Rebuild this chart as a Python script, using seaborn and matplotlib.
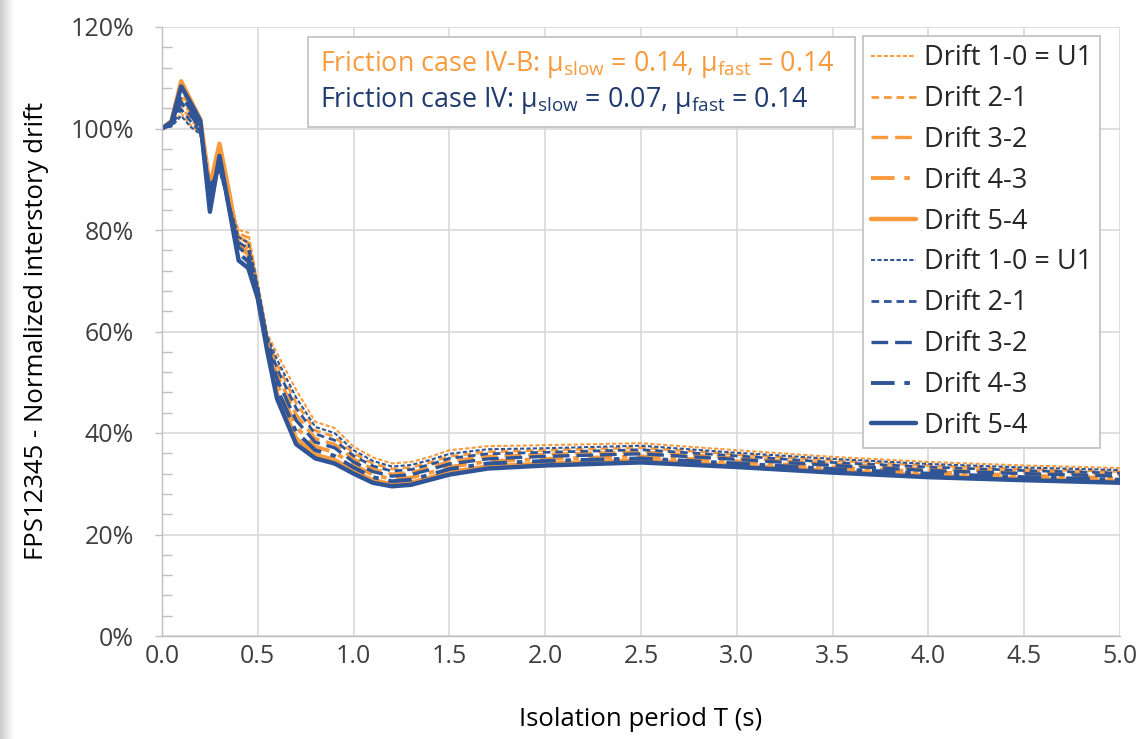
import numpy as np
import pandas as pd
import matplotlib
matplotlib.use("Agg")
import matplotlib.pyplot as plt
from matplotlib.lines import Line2D
from matplotlib.patches import Rectangle
from matplotlib.ticker import MultipleLocator, FuncFormatter
import seaborn as sns

# ---------------- data (values in %) ----------------
T = [0.0, 0.05, 0.1, 0.15, 0.2, 0.25, 0.3, 0.35, 0.4, 0.45, 0.5, 0.55, 0.6, 0.7,
     0.8, 0.9, 1.0, 1.1, 1.2, 1.3, 1.4, 1.5, 1.7, 2.0, 2.5, 3.0, 3.5, 4.0, 4.5, 5.0]

# Friction case IV-B (orange)
ivb_10 = [100, 100.5, 103.0, 100.6, 99.1, 89.5, 92.2, 85.6, 80.0, 79.5, 69.5, 59.5, 55.7, 48.5,
          42.2, 41.0, 37.3, 35.2, 34.0, 34.3, 35.3, 36.6, 37.4, 37.6, 38.0, 36.6, 35.3, 34.3, 33.6, 33.1]
ivb_21 = [100, 100.7, 104.3, 101.8, 99.7, 89.3, 93.2, 85.8, 79.3, 78.5, 68.8, 58.7, 53.6, 45.9,
          40.5, 39.3, 36.0, 34.0, 32.9, 33.2, 34.2, 35.4, 36.3, 36.6, 37.1, 35.8, 34.6, 33.6, 32.9, 32.4]
ivb_32 = [100, 100.9, 105.8, 103.0, 100.3, 89.0, 94.3, 86.2, 78.6, 77.5, 68.1, 57.9, 51.6, 43.6,
          38.9, 37.8, 34.9, 32.9, 31.9, 32.2, 33.2, 34.4, 35.4, 35.8, 36.3, 35.1, 33.9, 32.9, 32.3, 31.8]
ivb_43 = [100, 101.2, 107.2, 104.3, 101.0, 88.8, 95.5, 86.8, 77.8, 76.3, 67.5, 57.1, 49.6, 41.2,
          37.3, 36.2, 33.7, 31.8, 30.9, 31.2, 32.2, 33.3, 34.4, 34.9, 35.4, 34.4, 33.2, 32.3, 31.6, 31.1]
ivb_54 = [100, 101.5, 109.3, 105.5, 101.8, 88.5, 97.0, 87.5, 77.0, 75.2, 66.8, 56.4, 47.7, 38.9,
          35.7, 34.7, 32.5, 30.7, 29.9, 30.2, 31.2, 32.3, 33.4, 34.0, 34.6, 33.6, 32.5, 31.6, 31.0, 30.5]

# Friction case IV (blue)
iv_10 = [100, 100.4, 102.5, 100.3, 98.9, 89.0, 91.5, 85.2, 78.6, 77.5, 69.1, 59.0, 54.5, 47.0,
         41.2, 40.0, 36.6, 34.5, 33.4, 33.7, 34.7, 35.9, 36.8, 37.0, 37.5, 36.1, 34.9, 33.9, 33.2, 32.7]
iv_21 = [100, 100.6, 103.8, 101.4, 99.4, 88.5, 92.2, 85.0, 77.6, 76.3, 68.5, 58.3, 52.7, 44.9,
         39.8, 38.6, 35.5, 33.5, 32.5, 32.8, 33.8, 35.0, 35.9, 36.2, 36.7, 35.5, 34.2, 33.3, 32.6, 32.1]
iv_32 = [100, 100.8, 105.2, 102.6, 100.0, 87.5, 93.0, 84.8, 76.6, 75.0, 67.8, 57.5, 50.7, 42.5,
         38.2, 37.1, 34.3, 32.4, 31.5, 31.8, 32.8, 33.9, 34.9, 35.4, 35.9, 34.8, 33.6, 32.6, 32.0, 31.5]
iv_43 = [100, 101.0, 106.5, 103.8, 100.7, 86.0, 93.8, 84.5, 75.4, 73.8, 67.2, 56.8, 48.8, 40.2,
         36.6, 35.5, 33.2, 31.3, 30.5, 30.8, 31.8, 32.9, 34.0, 34.5, 35.0, 34.0, 32.9, 32.0, 31.3, 30.8]
iv_54 = [100, 101.3, 108.3, 105.0, 101.5, 83.6, 94.6, 84.3, 74.0, 72.5, 66.5, 56.0, 46.8, 37.8,
         35.0, 34.0, 32.0, 30.2, 29.5, 29.8, 30.8, 31.8, 33.0, 33.6, 34.2, 33.3, 32.2, 31.3, 30.7, 30.2]

drift_labels = ["Drift 1-0 = U1", "Drift 2-1", "Drift 3-2", "Drift 4-3", "Drift 5-4"]
x_ticks = [0.0, 0.5, 1.0, 1.5, 2.0, 2.5, 3.0, 3.5, 4.0, 4.5, 5.0]
y_ticks = [0, 20, 40, 60, 80, 100, 120]

# ---------------- style ----------------
ORANGE = "#F99A3C"
BLUE = "#2F5597"
NAVY = "#1F3A6E"
GRID = "#D9D9D9"
FONT = "Open Sans"

sns.set_theme(style="white")
plt.rcParams["font.family"] = [FONT, "DejaVu Sans"]
plt.rcParams["mathtext.fontset"] = "custom"
plt.rcParams["mathtext.rm"] = FONT
plt.rcParams["mathtext.it"] = FONT
plt.rcParams["lines.scale_dashes"] = False

styles = [
    dict(lw=1.5, ls=(0, (3.0, 1.6))),
    dict(lw=2.0, ls=(0, (5.5, 3.5))),
    dict(lw=2.4, ls=(0, (12.0, 5.0))),
    dict(lw=2.8, ls=(0, (17.0, 7.0, 4.0, 7.0))),
    dict(lw=3.2, ls="-"),
]

fig = plt.figure(figsize=(11.37, 7.39), dpi=100)
fig.patch.set_facecolor("white")

# left grey gradient strip
gax = fig.add_axes([0, 0, 14 / 1137, 1])
grad = np.linspace(0.80, 1.0, 64).reshape(1, -1)
gax.imshow(np.dstack([grad, grad, grad]), aspect="auto", extent=[0, 1, 0, 1])
gax.axis("off")

ax = fig.add_axes([162 / 1137, 1 - 636 / 739, (1120 - 162) / 1137, (636 - 27) / 739])

orange_series = [ivb_10, ivb_21, ivb_32, ivb_43, ivb_54]
blue_series = [iv_10, iv_21, iv_32, iv_43, iv_54]

handles = []
for series, color in ((orange_series, ORANGE), (blue_series, BLUE)):
    for vals, st, lab in zip(series, styles, drift_labels):
        df = pd.DataFrame({"T": T, "v": vals})
        sns.lineplot(data=df, x="T", y="v", ax=ax, color=color, linewidth=st["lw"],
                     linestyle=st["ls"], legend=False, solid_joinstyle="round",
                     dash_capstyle="butt")
        handles.append(Line2D([], [], color=color, linewidth=st["lw"],
                              linestyle=st["ls"], label=lab))

ax.set_xlim(0, 5)
ax.set_ylim(0, 120)
ax.set_xticks(x_ticks)
ax.set_yticks(y_ticks)
ax.xaxis.set_major_formatter(FuncFormatter(lambda v, p: f"{v:.1f}"))
ax.yaxis.set_major_formatter(FuncFormatter(lambda v, p: f"{v:.0f}%"))
ax.yaxis.set_minor_locator(MultipleLocator(4))
ax.grid(True, which="major", color=GRID, linewidth=1.2)
ax.set_axisbelow(True)
for s in ["top", "right"]:
    ax.spines[s].set_visible(False)
for s in ["left", "bottom"]:
    ax.spines[s].set_color("#BFBFBF")
    ax.spines[s].set_linewidth(1.0)

ax.tick_params(axis="x", which="major", length=0, pad=6, labelsize=18, labelcolor="#404040")
ax.tick_params(axis="y", which="major", direction="out", length=5, width=1.0,
               color="#BFBFBF", pad=15, labelsize=18, labelcolor="#404040", left=True)
ax.tick_params(axis="y", which="minor", direction="in", length=7, width=1.0,
               color="#BFBFBF", left=True)

ax.set_xlabel("Isolation period T (s)", fontsize=18.5, color="black")
ax.set_ylabel("FPS12345 - Normalized interstory drift", fontsize=18.5, color="black")
ax.xaxis.set_label_coords(0.5, (636 - 707) / 609)
ax.yaxis.set_label_coords((49 - 162) / 958, 0.5)

# annotation box
bx0, bx1 = (308 - 162) / 958, (855 - 162) / 958
by0, by1 = (636 - 127) / 609, (636 - 37) / 609
ax.add_patch(Rectangle((bx0, by0), bx1 - bx0, by1 - by0, transform=ax.transAxes,
                       facecolor="white", edgecolor="#BFBFBF", linewidth=1.2, zorder=5))
tx = (320 - 162) / 958
ax.text(tx, (636 - 71) / 609,
        r"Friction case IV-B: $\mathrm{μ}_{\mathrm{slow}}$ = 0.14, $\mathrm{μ}_{\mathrm{fast}}$ = 0.14",
        transform=ax.transAxes, color=ORANGE, fontsize=19.4, va="baseline", ha="left", zorder=6)
ax.text(tx, (636 - 107) / 609,
        r"Friction case IV: $\mathrm{μ}_{\mathrm{slow}}$ = 0.07, $\mathrm{μ}_{\mathrm{fast}}$ = 0.14",
        transform=ax.transAxes, color=NAVY, fontsize=19.4, va="baseline", ha="left", zorder=6)

leg = ax.legend(handles=handles, loc="upper left",
                bbox_to_anchor=((863 - 162) / 958, (636 - 36) / 609),
                borderaxespad=0, fontsize=19.5, frameon=True, fancybox=False,
                framealpha=1, edgecolor="#BFBFBF", handlelength=1.65, handletextpad=0.3,
                labelspacing=0.475, borderpad=0.3)
leg.get_frame().set_linewidth(1.2)
leg.set_zorder(7)

fig.savefig("out.png", dpi=100, facecolor="white")
